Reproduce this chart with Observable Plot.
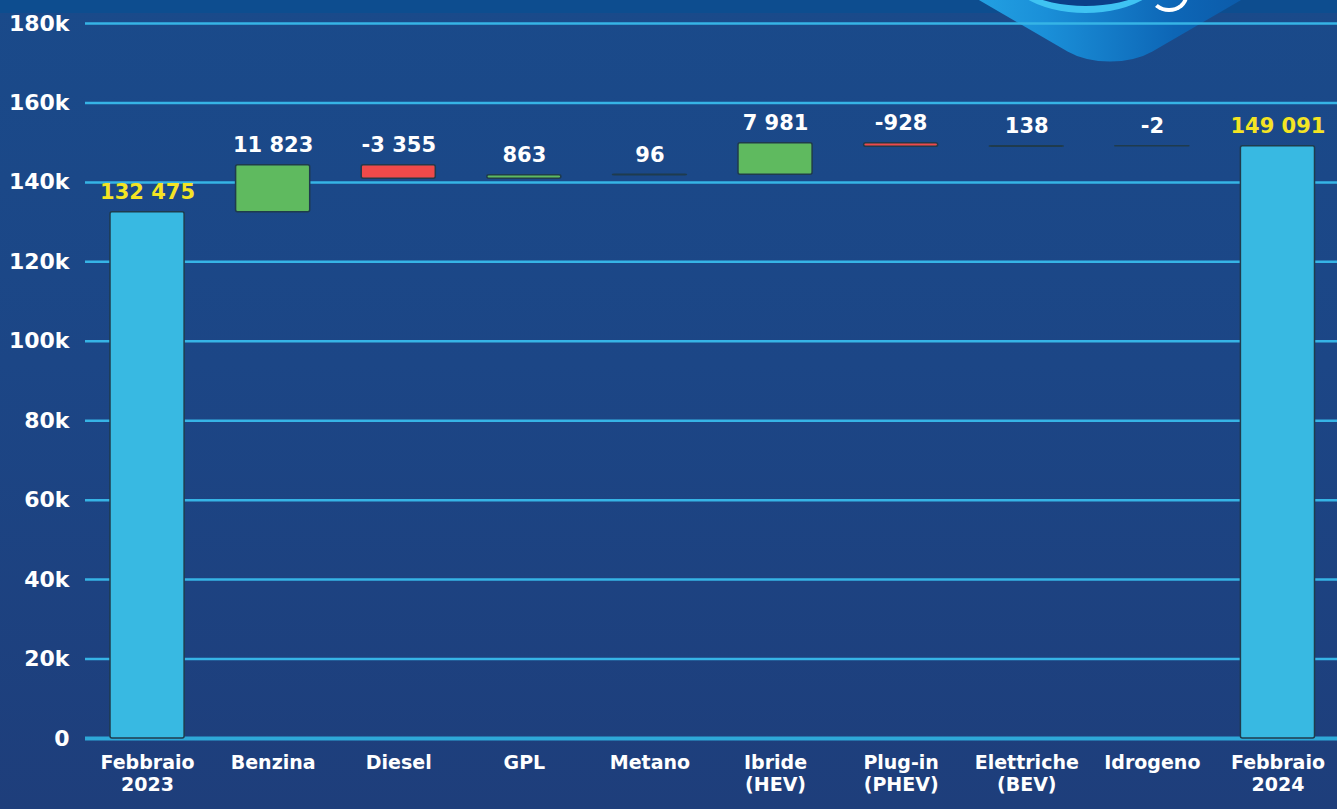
<!DOCTYPE html>
<html><head><meta charset="utf-8">
<script src="https://cdn.jsdelivr.net/npm/d3@7"></script>
<script src="https://cdn.jsdelivr.net/npm/@observablehq/plot@0.6"></script>
<style>
html,body{margin:0;padding:0;width:1337px;height:809px;overflow:hidden;}
body{background:linear-gradient(180deg,#1a4a8a 0%,#1c4686 45%,#1e3e7b 100%);font-family:"DejaVu Sans",sans-serif;position:relative;}
#strip{position:absolute;left:0;top:0;width:1337px;height:13px;background:#0d4d8f;}
#deco{position:absolute;left:960px;top:-197px;width:300px;height:300px;border-radius:60px;
  background:linear-gradient(to top right,#2cb4ee 0%,#1a8fd8 35%,#0d66b6 65%,#0a4f9c 100%);
  transform:scaleY(0.58) rotate(45deg);}
#ring{position:absolute;left:998px;top:-95px;width:175px;height:101px;border-radius:50%;
  background:#0b3f88;border-bottom:7px solid #3fc3f2;}
#arc{position:absolute;left:1150px;top:-20px;width:30px;height:24px;border-radius:50%;border:4px solid #fff;border-top-color:transparent;border-left-color:transparent;}
#chart{position:absolute;left:0;top:0;}
#chart svg text{font-weight:700;}
</style></head>
<body>
<div id="strip"></div>
<div id="deco"></div>
<div id="ring"></div>
<div id="arc"></div>
<div id="chart"></div>
<script>
const xLabels = ["Febbraio\n2023","Benzina","Diesel","GPL","Metano","Ibride\n(HEV)","Plug-in\n(PHEV)","Elettriche\n(BEV)","Idrogeno","Febbraio\n2024"];
const values = [132475, 11823, -3355, 863, 96, 7981, -928, 138, -2, 149091];
const yTicks = [0,20000,40000,60000,80000,100000,120000,140000,160000,180000];
const yTickLabels = ["0","20k","40k","60k","80k","100k","120k","140k","160k","180k"];
const colors = {total:"#38b9e2", up:"#5fba5f", down:"#ef4a4a"};

const fmt = d3.formatLocale({decimal:",", thousands:" ", grouping:[3], currency:["",""], minus:"-"}).format(",d");
let run = 0;
const rows = xLabels.map((c,i)=>{
  const v = values[i];
  let y1, y2, type;
  if (i === 0 || i === xLabels.length-1) { y1 = 0; y2 = v; run = v; type = "total"; }
  else { y1 = run; y2 = run + v; run = y2; type = v >= 0 ? "up" : "down"; }
  return {label:c, v, y1, y2, top:Math.max(y1,y2), type, text:fmt(v)};
});

const chart = Plot.plot({
  width:1337, height:809,
  marginLeft:85, marginRight:0, marginTop:23, marginBottom:71,
  style:{background:"transparent", color:"#fff", fontFamily:"'DejaVu Sans', sans-serif", overflow:"visible"},
  color:{type:"identity"},
  x:{domain:xLabels, padding:0.41, range:[58.5,1366], round:false, label:null},
  y:{domain:[0,180000], label:null},
  marks:[
    Plot.ruleY(yTicks.slice(1), {stroke:"#36b4e6", strokeWidth:2.5}),
    Plot.ruleY([0], {stroke:"#2ea8d8", strokeWidth:4}),
    Plot.barY(rows, {x:"label", y1:"y1", y2:"y2", fill:d=>colors[d.type], stroke:"#1f3b4d", strokeWidth:1.5, rx:2}),
    Plot.text(rows, {x:"label", y:"top", text:"text", dy:-20, fill:d=>d.type==="total"?"#f4e424":"#ffffff", fontSize:21, fontWeight:700}),
    Plot.axisY({ticks:yTicks, tickFormat:(d)=>yTickLabels[yTicks.indexOf(d)], tickSize:0, tickPadding:16, fontSize:22, fontWeight:700, label:null}),
    Plot.axisX({tickSize:0, tickPadding:14, fontSize:19, fontWeight:700, lineHeight:1.2, label:null})
  ]
});
document.getElementById("chart").appendChild(chart);
</script>
</body></html>
